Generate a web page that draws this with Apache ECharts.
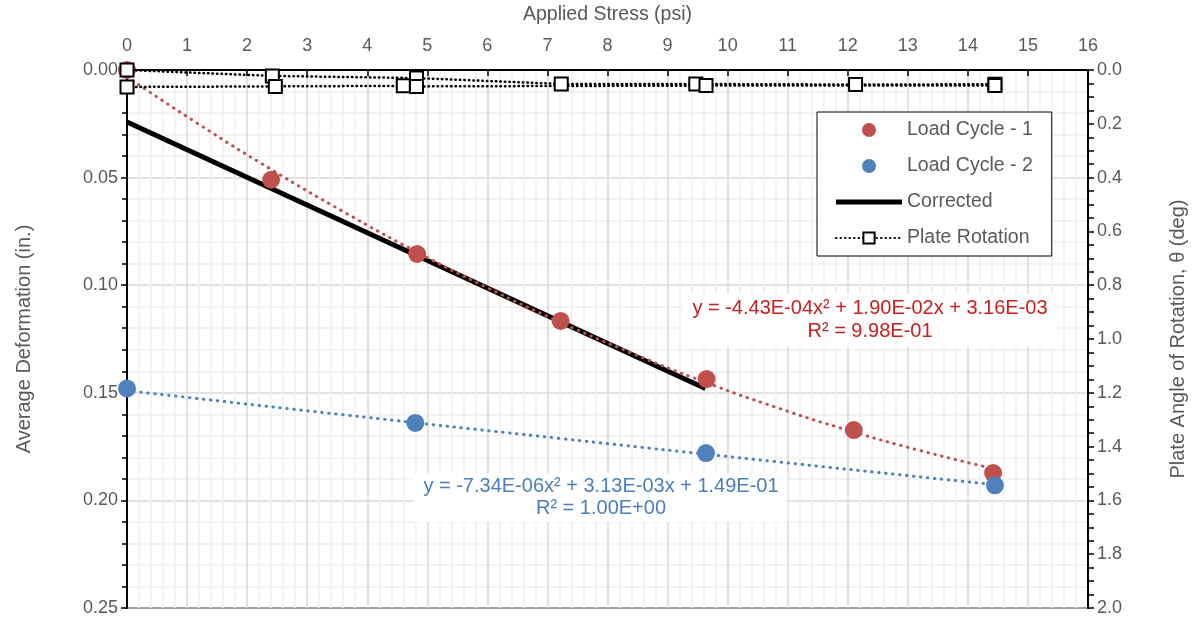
<!DOCTYPE html>
<html>
<head>
<meta charset="utf-8">
<script src="https://cdn.jsdelivr.net/npm/echarts@6/dist/echarts.min.js"></script>
<style>
html,body{margin:0;padding:0;background:#fff;}
#chart{width:1196px;height:620px;}
</style>
</head>
<body>
<div id="chart"></div>
<script>
// Applied stress (psi) / average deformation (in.)
const loadCycle1 = [[0, 0.000], [2.40, 0.051], [4.83, 0.0855], [7.22, 0.1166], [9.65, 0.1436], [12.10, 0.1673], [14.42, 0.1873]];
const loadCycle1Trend = [[0, 0.0032], [1.2, 0.0253], [2.4, 0.0462], [3.6, 0.0658], [4.8, 0.0842], [6.0, 0.1012], [7.2, 0.1170], [8.4, 0.1315], [9.6, 0.1448], [10.8, 0.1567], [12.0, 0.1674], [13.2, 0.1768], [14.42, 0.1852]];
const loadCycle2 = [[0, 0.148], [4.80, 0.164], [9.64, 0.178], [14.45, 0.193]];
const loadCycle2Trend = [[0, 0.149], [3.6, 0.1602], [7.2, 0.1712], [10.8, 0.1820], [14.45, 0.1927]];
const corrected = [[0, 0.0242], [9.63, 0.1480]];
// Applied stress (psi) / plate rotation (deg)
const plateRotationA = [[0, 0.000], [2.42, 0.022], [4.82, 0.030], [7.23, 0.052], [9.47, 0.052], [12.13, 0.054], [14.45, 0.053]];
const plateRotationB = [[0, 0.063], [2.47, 0.061], [4.60, 0.059], [4.82, 0.061], [9.64, 0.058], [14.45, 0.058]];
const eq1 = ['y = -4.43E-04x² + 1.90E-02x + 3.16E-03', 'R² = 9.98E-01'];
const eq2 = ['y = -7.34E-06x² + 3.13E-03x + 1.49E-01', 'R² = 1.00E+00'];
const legendNames = ['Load Cycle - 1', 'Load Cycle - 2', 'Corrected', 'Plate Rotation'];

const FONT = '"Liberation Sans", Arial, sans-serif';
const GRAY = '#595959';
const RED = '#C0504D';
const BLUE = '#4F81BD';

const chart = echarts.init(document.getElementById('chart'), null, {renderer: 'canvas'});
chart.setOption({
  animation: false,
  textStyle: {fontFamily: FONT},
  grid: {left: 127, right: 103, top: 70, bottom: 12, show: true, borderColor: '#000', borderWidth: 2, backgroundColor: 'transparent'},
  legend: {
    data: [
      {name: legendNames[0], icon: 'circle'},
      {name: legendNames[1], icon: 'circle'},
      {name: legendNames[2], icon: 'path://M0,0L66,0L66,5L0,5Z'},
      legendNames[3]
    ],
    orient: 'vertical', left: 817, top: 112,
    backgroundColor: '#fff', borderColor: '#000', borderWidth: 1,
    padding: [6, 19, 6, 18], itemGap: 12, itemWidth: 66, itemHeight: 14,
    textStyle: {color: GRAY, fontSize: 19.5, fontFamily: FONT, lineHeight: 24},
    selectedMode: false
  },
  xAxis: {
    type: 'value', position: 'top', min: 0, max: 16, interval: 1,
    name: 'Applied Stress (psi)', nameLocation: 'middle', nameGap: 45,
    nameTextStyle: {color: GRAY, fontSize: 19.5, fontFamily: FONT},
    axisLine: {show: true, lineStyle: {color: '#000', width: 2}},
    axisTick: {show: true, inside: true, length: 6, lineStyle: {color: '#000', width: 1.5}},
    axisLabel: {color: GRAY, fontSize: 18, margin: 15, fontFamily: FONT},
    splitLine: {show: true, lineStyle: {color: '#d9d9d9', width: 1.5}},
    minorTick: {show: true, splitNumber: 5, length: 0},
    minorSplitLine: {show: true, lineStyle: {color: '#f0f0f0', width: 1.5}}
  },
  yAxis: [{
    type: 'value', inverse: true, min: 0, max: 0.25, interval: 0.05, position: 'left',
    name: 'Average Deformation (in.)', nameLocation: 'middle', nameGap: 93, nameRotate: 90,
    nameTextStyle: {color: GRAY, fontSize: 20, fontFamily: FONT},
    axisLine: {show: true, lineStyle: {color: '#000', width: 2}},
    axisTick: {show: true, length: 6, lineStyle: {color: '#000', width: 1.5}},
    axisLabel: {color: GRAY, fontSize: 18, margin: 9, fontFamily: FONT, formatter: v => v.toFixed(2)},
    splitLine: {show: true, lineStyle: {color: '#d9d9d9', width: 1.5}},
    minorTick: {show: true, splitNumber: 5, length: 5, lineStyle: {color: '#000', width: 1.5}},
    minorSplitLine: {show: true, lineStyle: {color: '#f0f0f0', width: 1.5}}
  }, {
    type: 'value', inverse: true, min: 0, max: 2, interval: 0.2, position: 'right',
    name: 'Plate Angle of Rotation, θ (deg)', nameLocation: 'middle', nameGap: 80, nameRotate: 90,
    nameTextStyle: {color: GRAY, fontSize: 20, fontFamily: FONT},
    axisLine: {show: true, lineStyle: {color: '#000', width: 2}},
    axisTick: {show: true, length: 6, lineStyle: {color: '#000', width: 1.5}},
    axisLabel: {color: GRAY, fontSize: 18, margin: 9, fontFamily: FONT, formatter: v => v.toFixed(1)},
    splitLine: {show: false},
    minorTick: {show: true, splitNumber: 4, length: 6, lineStyle: {color: '#000', width: 1.5}},
    minorSplitLine: {show: false}
  }],
  graphic: [{
    type: 'text', x: 870, y: 294, z: 50,
    style: {text: eq1.join('\n'), fill: '#C8201E', font: '20px ' + FONT, align: 'center', verticalAlign: 'top', lineHeight: 23,
      backgroundColor: '#fff', padding: [3, 9, 4, 9]}
  }, {
    type: 'text', x: 601, y: 473, z: 50,
    style: {text: eq2.join('\n'), fill: '#4A7EBB', font: '20px ' + FONT, align: 'center', verticalAlign: 'top', lineHeight: 22,
      backgroundColor: '#fff', padding: [2, 9, 3, 9]}
  }],
  series: [{
    name: 'Corrected', type: 'line', data: corrected, symbol: 'none', z: 3,
    lineStyle: {color: '#000', width: 5}, itemStyle: {color: '#000'}
  }, {
    name: 'LC1 trend', type: 'line', data: loadCycle1Trend, symbol: 'none', smooth: true, z: 4,
    lineStyle: {color: RED, width: 3, type: [0.5, 6.5], cap: 'round'}
  }, {
    name: 'LC2 trend', type: 'line', data: loadCycle2Trend, symbol: 'none', smooth: true, z: 4,
    lineStyle: {color: BLUE, width: 3, type: [0.5, 6.5], cap: 'round'}
  }, {
    name: 'Load Cycle - 1', type: 'scatter', data: loadCycle1, symbol: 'circle', symbolSize: 18, z: 5,
    itemStyle: {color: RED, opacity: 1}
  }, {
    name: 'Load Cycle - 2', type: 'scatter', data: loadCycle2, symbol: 'circle', symbolSize: 18, z: 5,
    itemStyle: {color: BLUE, opacity: 1}
  }, {
    name: 'Plate Rotation', type: 'line', yAxisIndex: 1, data: plateRotationA, symbol: 'rect', symbolSize: 13, z: 6,
    lineStyle: {color: '#000', width: 2.5, type: [0.5, 4], cap: 'round'},
    itemStyle: {color: '#fff', borderColor: '#000', borderWidth: 2}
  }, {
    name: 'Plate Rotation', type: 'line', yAxisIndex: 1, data: plateRotationB, symbol: 'rect', symbolSize: 13, z: 6,
    lineStyle: {color: '#000', width: 2.5, type: [0.5, 4], cap: 'round'},
    itemStyle: {color: '#fff', borderColor: '#000', borderWidth: 2}
  }]
});
</script>
</body>
</html>
